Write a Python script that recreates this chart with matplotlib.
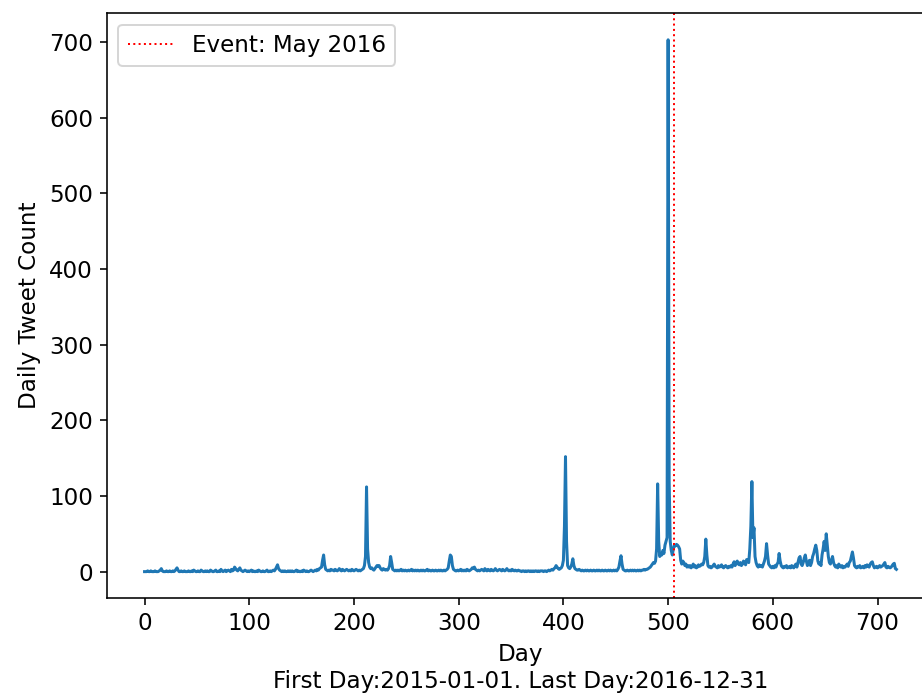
import matplotlib
matplotlib.use("Agg")
import matplotlib.pyplot as plt

# Daily tweet counts, day 0 = 2015-01-01
daily_counts = [
    0, 0, 0, 1, 0, 0, 1, 0, 0, 0, 1, 0, 0, 0, 1, 2, 4, 1, 0, 0,
    0, 1, 0, 0, 1, 0, 0, 1, 0, 1, 3, 5, 2, 0, 0, 1, 0, 0, 1, 0,
    0, 0, 1, 0, 0, 1, 0, 2, 1, 0, 0, 1, 0, 0, 2, 1, 0, 0, 1, 0,
    1, 0, 0, 2, 1, 0, 0, 1, 2, 0, 0, 1, 0, 3, 1, 0, 1, 2, 0, 1,
    2, 1, 0, 3, 1, 2, 6, 4, 2, 1, 3, 5, 2, 1, 0, 1, 2, 1, 0, 1,
    0, 1, 2, 0, 1, 0, 0, 1, 0, 2, 1, 0, 0, 1, 0, 0, 1, 2, 0, 0,
    1, 0, 1, 2, 1, 3, 6, 9, 4, 2, 1, 0, 1, 0, 1, 0, 0, 1, 0, 1,
    0, 1, 0, 0, 1, 2, 0, 1, 0, 0, 1, 0, 2, 1, 0, 1, 0, 0, 1, 2,
    1, 0, 1, 2, 1, 3, 2, 4, 5, 6, 15, 22, 9, 3, 2, 1, 2, 1, 3, 2,
    2, 1, 3, 2, 1, 2, 4, 2, 1, 3, 2, 1, 2, 3, 2, 1, 2, 1, 3, 2,
    1, 2, 3, 2, 1, 2, 1, 2, 3, 4, 8, 20, 112, 30, 12, 6, 4, 5, 3, 2,
    4, 6, 8, 7, 8, 5, 3, 2, 4, 3, 2, 3, 2, 4, 8, 20, 12, 3, 2, 1,
    2, 1, 2, 1, 2, 3, 1, 2, 1, 2, 1, 1, 2, 1, 2, 3, 1, 2, 1, 2,
    1, 2, 1, 1, 2, 1, 2, 1, 1, 2, 3, 1, 2, 1, 1, 2, 1, 1, 2, 1,
    1, 2, 1, 2, 1, 1, 2, 1, 2, 3, 5, 14, 22, 20, 8, 3, 2, 1, 1, 2,
    1, 2, 3, 1, 2, 1, 2, 1, 3, 2, 1, 2, 3, 5, 4, 6, 3, 2, 1, 2,
    1, 2, 3, 2, 1, 4, 2, 1, 3, 2, 1, 3, 2, 1, 2, 4, 2, 1, 2, 3,
    2, 1, 3, 2, 1, 2, 4, 2, 1, 2, 1, 3, 2, 1, 2, 1, 1, 2, 1, 1,
    0, 1, 1, 0, 1, 0, 1, 1, 0, 1, 0, 1, 0, 1, 1, 0, 1, 0, 1, 1,
    1, 0, 1, 1, 0, 1, 2, 1, 2, 3, 2, 4, 5, 8, 6, 4, 3, 4, 5, 8,
    15, 60, 152, 40, 8, 5, 4, 6, 10, 17, 8, 4, 3, 2, 2, 3, 2, 1, 2, 1,
    1, 2, 1, 2, 1, 1, 2, 1, 1, 2, 1, 1, 2, 1, 2, 1, 1, 2, 1, 1,
    2, 1, 1, 2, 1, 2, 1, 1, 2, 1, 2, 1, 3, 6, 14, 21, 10, 3, 2, 1,
    1, 2, 1, 1, 2, 1, 2, 1, 2, 1, 1, 2, 1, 2, 1, 2, 2, 3, 2, 3,
    3, 4, 5, 6, 8, 10, 12, 11, 14, 30, 116, 40, 20, 24, 22, 28, 24, 35, 40, 45,
    703, 120, 40, 28, 22, 30, 35, 34, 36, 35, 33, 30, 15, 10, 14, 12, 8, 10, 6, 8,
    6, 8, 5, 7, 10, 6, 8, 5, 6, 9, 7, 8, 10, 9, 12, 20, 43, 22, 8, 6,
    7, 5, 6, 8, 10, 7, 6, 5, 8, 6, 7, 9, 6, 5, 7, 8, 6, 5, 7, 6,
    8, 6, 10, 13, 8, 12, 14, 10, 9, 12, 8, 10, 14, 12, 9, 16, 14, 12, 30, 60,
    119, 45, 58, 20, 12, 8, 6, 9, 7, 8, 6, 10, 14, 20, 37, 22, 10, 8, 6, 5,
    7, 5, 8, 6, 10, 12, 24, 14, 8, 6, 5, 7, 6, 8, 5, 6, 7, 5, 8, 6,
    5, 8, 10, 6, 12, 18, 20, 10, 8, 12, 18, 22, 14, 8, 10, 15, 8, 12, 20, 24,
    30, 35, 28, 14, 10, 12, 8, 22, 30, 40, 28, 50, 35, 20, 12, 10, 15, 20, 12, 8,
    6, 8, 5, 10, 7, 6, 8, 5, 7, 6, 8, 10, 7, 12, 14, 20, 26, 18, 8, 6,
    5, 7, 6, 8, 5, 6, 7, 5, 8, 6, 9, 7, 6, 10, 12, 13, 8, 5, 6, 7,
    5, 6, 8, 6, 7, 8, 10, 12, 6, 5, 7, 6, 5, 6, 8, 10, 11, 4, 3,
]
days = list(range(len(daily_counts)))

event_day = 506
event_label = "Event: May 2016"
x_label = "Day\nFirst Day:2015-01-01. Last Day:2016-12-31"
y_label = "Daily Tweet Count"
x_ticks = [0, 100, 200, 300, 400, 500, 600, 700]
y_ticks = [0, 100, 200, 300, 400, 500, 600, 700]

plt.rcParams["font.size"] = 11.5

fig = plt.figure(figsize=(922 / 144, 694 / 144), dpi=144)
ax = fig.add_axes([0.116, 0.138, 0.897, 0.843])

ax.plot(days, daily_counts, color="#1f77b4", linewidth=1.5)
ax.axvline(event_day, color="red", linestyle=":", linewidth=1, label=event_label)

ax.set_xlabel(x_label)
ax.set_ylabel(y_label)
ax.set_xticks(x_ticks)
ax.set_yticks(y_ticks)
ax.legend(loc="upper left")

fig.savefig("out.png", dpi=144)
